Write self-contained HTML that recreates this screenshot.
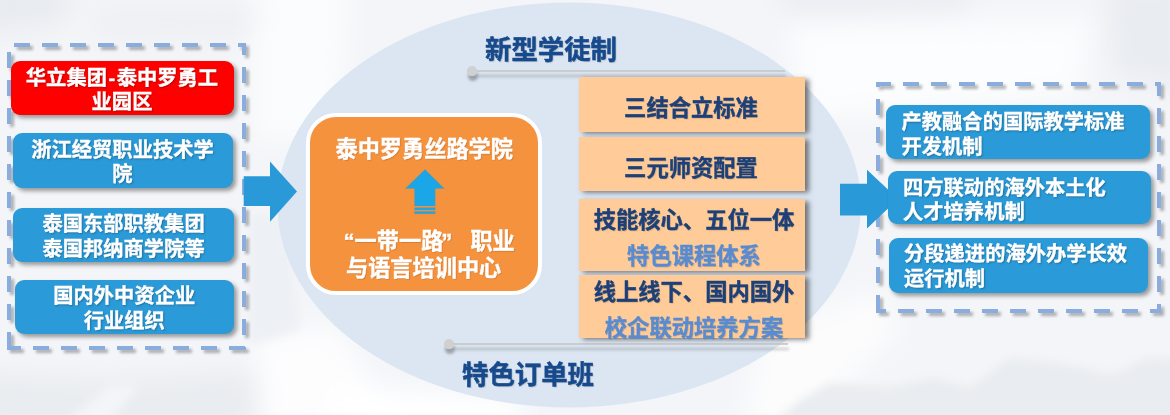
<!DOCTYPE html>
<html lang="zh-CN">
<head>
<meta charset="utf-8">
<title>泰中罗勇丝路学院</title>
<style>
html,body{margin:0;padding:0;}
body{width:1170px;height:415px;overflow:hidden;position:relative;background:#f3f5f8;
 font-family:"Liberation Sans","Noto Sans CJK SC",sans-serif;font-weight:bold;}
svg{position:absolute;left:0;top:0;}
.b{position:absolute;box-sizing:border-box;border-radius:9px;background:#2a9ad8;color:#fff;
 font-size:20.3px;line-height:25px;text-align:center;white-space:nowrap;
 box-shadow:3px 3px 4px rgba(0,0,0,.38);text-shadow:1px 1px 2px rgba(0,0,0,.3);-webkit-text-stroke:.35px #fff;}
.b.red{background:#fe0000;}
.b.l{line-height:24.4px;}
.b.r{text-align:left;}
.p{position:absolute;box-sizing:border-box;background:#ffcc99;color:#1c4077;-webkit-text-stroke:.4px;font-size:22.3px;line-height:36px;
 text-align:center;white-space:nowrap;box-shadow:4px 1.5px 5px rgba(0,0,0,.5);text-shadow:1px 1px 1px rgba(0,0,0,.15);}
.p .l{color:#598bd0;}
.t{position:absolute;color:#174a8c;-webkit-text-stroke:.5px #174a8c;font-size:26.4px;line-height:30px;white-space:nowrap;text-shadow:1px 1px 1px rgba(0,0,0,.2);}
#org{position:absolute;left:306px;top:113px;width:236px;height:181.5px;box-sizing:border-box;border:4px solid #fff;border-radius:30px;background:#f5923e;color:#fff;font-size:22.2px;-webkit-text-stroke:.4px #fff;text-shadow:1px 1px 1px rgba(0,0,0,.15);}
#org div{position:absolute;white-space:nowrap;line-height:27px;}
.b,.p,.t,#org{will-change:transform;}
</style>
</head>
<body>
<svg id="bgsvg" width="1170" height="415" viewBox="0 0 1170 415">
 <defs>
  <filter id="bl" x="-20%" y="-20%" width="140%" height="140%"><feGaussianBlur stdDeviation="12"/></filter>
  <filter id="bl2" x="-20%" y="-20%" width="140%" height="140%"><feGaussianBlur stdDeviation="5"/></filter>
  <filter id="sh" x="-10%" y="-10%" width="130%" height="130%">
   <feGaussianBlur in="SourceAlpha" stdDeviation="1.6"/><feOffset dx="2.5" dy="3"/>
   <feComponentTransfer><feFuncA type="linear" slope=".3"/></feComponentTransfer>
   <feMerge><feMergeNode/><feMergeNode in="SourceGraphic"/></feMerge>
  </filter>
  <filter id="sh2" x="-5%" y="-300%" width="110%" height="800%">
   <feGaussianBlur in="SourceAlpha" stdDeviation="1.8"/><feOffset dx="0.5" dy="4.5"/>
   <feComponentTransfer><feFuncA type="linear" slope=".3"/></feComponentTransfer>
   <feMerge><feMergeNode/><feMergeNode in="SourceGraphic"/></feMerge>
  </filter>
 </defs>
 <rect width="1170" height="415" fill="#f3f5f8"/>
 <g filter="url(#bl)">
  <polygon points="250,-20 350,-20 340,140 255,140" fill="#fbfcfd"/>
  <polygon points="790,25 1090,20 1080,95 800,120" fill="#fcfdfe"/>
  <polygon points="-20,-20 80,-20 60,25 -20,35" fill="#e8ebf0"/>
  <polygon points="90,5 260,5 250,40 100,42" fill="#eef0f4"/>
  <polygon points="770,-20 980,-20 960,12 790,14" fill="#eaedf2"/>
  <polygon points="1105,-20 1190,-20 1190,90 1115,75" fill="#e9ecf1"/>
  <polygon points="-20,372 100,380 290,370 250,435 -20,435" fill="#e9ecf0"/>
  <polygon points="255,335 335,325 400,420 260,435" fill="#fdfdfe"/>
  <polygon points="330,385 520,398 520,435 330,435" fill="#ffffff"/>
  <polygon points="760,330 880,290 900,330 800,435 740,435" fill="#fcfcfd"/>
 </g>
 <g filter="url(#bl2)">
  <polygon points="800,400 830,383 890,388 933,378 970,388 1010,358 1057,363 1113,375 1147,358 1190,360 1190,435 760,435" fill="#e9ecf0"/>
  <polygon points="50,435 110,385 140,385 100,435" fill="#f3f5f8"/>
  <polygon points="250,215 285,215 300,330 250,345" fill="#edf0f4"/>
 </g>
 <ellipse cx="569.2" cy="205" rx="291.8" ry="202.4" fill="#dce6f2"/>
 <g fill="none" stroke="#8badde" stroke-width="4" stroke-dasharray="16 12" filter="url(#sh)">
  <path d="M9,45 H244 V350" stroke-dashoffset="23"/>
  <path d="M245,348 H7"/>
  <path d="M9,348 V45"/>
  <path d="M876,84 H1159 V311 H876" stroke-dashoffset="1"/>
  <path d="M878,311 V84"/>
 </g>
 <polygon points="243.7,176.3 270,176.3 270,161.5 297,191.5 270,221.7 270,206 243.7,206" fill="#2a99d7"/>
 <polygon points="840,183.7 867,183.7 867,169.8 898,199 867,228.4 867,215.5 840,215.5" fill="#2a99d7"/>
 <g filter="url(#sh2)">
  <line x1="472" y1="71" x2="785" y2="71" stroke="#c4c4c4" stroke-width="1.5"/>
  <circle cx="472" cy="71" r="5.1" fill="#d0d0d0"/>
 </g>
 <g filter="url(#sh2)">
  <line x1="449" y1="344" x2="788" y2="344" stroke="#c4c4c4" stroke-width="1.5"/>
  <circle cx="449" cy="344" r="5.1" fill="#d0d0d0"/>
 </g>
</svg>

<div class="b l red" style="left:11px;top:61px;width:223px;height:53.6px;padding-top:5px;padding-right:1px;">华立集团<span style="padding:0 1.5px;">-</span>泰中罗勇工<br>业园区</div>
<div class="b l" style="left:13px;top:133px;width:220px;height:55px;padding-top:5px;padding-right:1px;">浙江经贸职业技术学<br>院</div>
<div class="b" style="left:13px;top:208px;width:220.6px;height:54px;padding-top:4px;padding-left:0.5px;">泰国东部职教集团<br>泰国邦纳商学院等</div>
<div class="b" style="left:15px;top:280px;width:219px;height:54px;padding-top:4px;padding-right:0.5px;">国内外中资企业<br>行业组织</div>

<div class="t" style="left:485px;top:35px;">新型学徒制</div>
<div class="t" style="left:461.5px;top:360px;">特色订单班</div>

<div id="org">
 <div style="left:25.5px;top:18.5px;">泰中罗勇丝路学院</div>
 <svg style="left:95px;top:52px;" width="40" height="46" viewBox="405 169 40 46">
  <g fill="#1ba6e8" stroke="#7f8c8d" stroke-opacity=".35" stroke-width=".6">
   <polygon points="425,169.4 444.2,188.4 435.2,188.4 435.2,206 414.5,206 414.5,188.4 405.4,188.4"/>
   <rect x="414.5" y="207.7" width="20.7" height="2.3"/>
   <rect x="414.5" y="211.4" width="20.7" height="2.4"/>
  </g>
 </svg>
 <div style="left:33.5px;top:110.5px;">“一带一路<span style="margin-left:-2px;">”</span><span style="margin-left:18px;">职业</span></div>
 <div style="left:36px;top:137.5px;">与语言培训中心</div>
</div>

<div class="p" style="left:579px;top:77px;width:226px;height:55px;padding-top:13.5px;padding-right:2px;">三结合立标准</div>
<div class="p" style="left:579px;top:137px;width:226px;height:54px;padding-top:13.5px;padding-right:2px;">三元师资配置</div>
<div class="p" style="left:579px;top:199px;width:226px;height:72px;padding-top:3.5px;padding-left:4px;">技能核心、五位一体<br><span class="l">特色课程体系</span></div>
<div class="p" style="left:579px;top:275.4px;width:226px;height:63.2px;padding-top:0px;padding-left:4px;">线上线下、国内国外<br><span class="l">校企联动培养方案</span></div>

<div class="b r" style="left:886px;top:104.7px;width:263.5px;height:53.8px;padding:5px 0 0 15.5px;">产教融合的国际教学标准<br>开发机制</div>
<div class="b r l" style="left:887.6px;top:171px;width:263.2px;height:53px;padding:4.5px 0 0 15px;">四方联动的海外本土化<br>人才培养机制</div>
<div class="b r" style="left:889px;top:238px;width:259.2px;height:54.6px;padding:4px 0 0 15px;">分段递进的海外办学长效<br>运行机制</div>
</body>
</html>
